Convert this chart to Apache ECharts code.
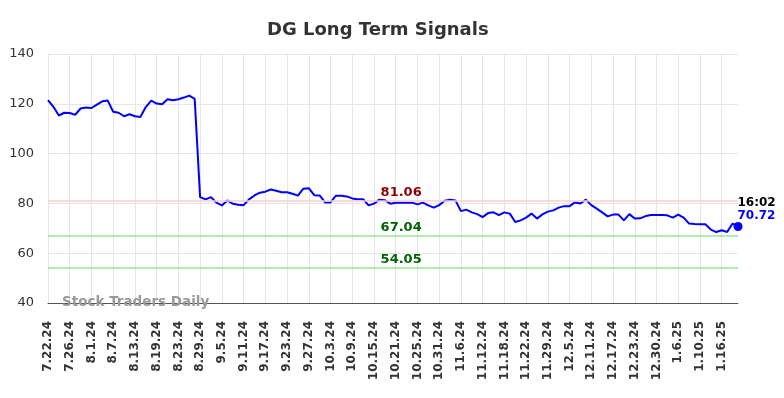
<!DOCTYPE html>
<html>
<head>
<meta charset="utf-8">
<script src="https://cdn.jsdelivr.net/npm/echarts@6/dist/echarts.min.js"></script>
<style>
  html, body { margin: 0; padding: 0; background: #fff; }
  #chart { width: 784px; height: 398px; }
</style>
</head>
<body>
<div id="chart"></div>
<script>
// trading days, 7.22.24 .. 1.22.25
var dates = [
  '7.22.24','7.23.24','7.24.24','7.25.24','7.26.24','7.29.24','7.30.24','7.31.24',
  '8.1.24','8.2.24','8.5.24','8.6.24','8.7.24','8.8.24','8.9.24','8.12.24','8.13.24','8.14.24','8.15.24','8.16.24',
  '8.19.24','8.20.24','8.21.24','8.22.24','8.23.24','8.26.24','8.27.24','8.28.24','8.29.24','8.30.24',
  '9.3.24','9.4.24','9.5.24','9.6.24','9.9.24','9.10.24','9.11.24','9.12.24','9.13.24','9.16.24',
  '9.17.24','9.18.24','9.19.24','9.20.24','9.23.24','9.24.24','9.25.24','9.26.24','9.27.24','9.30.24',
  '10.1.24','10.2.24','10.3.24','10.4.24','10.7.24','10.8.24','10.9.24','10.10.24','10.11.24','10.14.24',
  '10.15.24','10.16.24','10.17.24','10.18.24','10.21.24','10.22.24','10.23.24','10.24.24','10.25.24','10.28.24',
  '10.29.24','10.30.24','10.31.24',
  '11.1.24','11.4.24','11.5.24','11.6.24','11.7.24','11.8.24','11.11.24','11.12.24','11.13.24','11.14.24',
  '11.15.24','11.18.24','11.19.24','11.20.24','11.21.24','11.22.24','11.25.24','11.26.24','11.27.24','11.29.24',
  '12.2.24','12.3.24','12.4.24','12.5.24','12.6.24','12.9.24','12.10.24','12.11.24','12.12.24','12.13.24',
  '12.16.24','12.17.24','12.18.24','12.19.24','12.20.24','12.23.24','12.24.24','12.26.24','12.27.24','12.30.24',
  '12.31.24',
  '1.2.25','1.3.25','1.6.25','1.7.25','1.8.25','1.9.25','1.10.25','1.13.25','1.14.25','1.15.25',
  '1.16.25','1.17.25','1.21.25','1.22.25'
];

var prices = [
  121.5, 118.8, 115.3, 116.4, 116.3, 115.6, 118.1, 118.5, 118.3, 119.7,
  121.0, 121.3, 116.8, 116.4, 115.0, 115.8, 115.0, 114.7, 118.7, 121.3,
  120.1, 119.8, 121.8, 121.4, 121.8, 122.5, 123.3, 122.0, 82.5, 81.6,
  82.5, 80.3, 79.2, 81.2, 79.9, 79.5, 79.3, 81.6, 83.2, 84.3,
  84.7, 85.6, 85.1, 84.5, 84.5, 83.9, 83.1, 85.9, 86.1, 83.3,
  83.2, 80.4, 80.4, 83.1, 83.1, 82.8, 82.0, 81.7, 81.7, 79.2,
  79.9, 81.5, 81.3, 79.9, 80.3, 80.3, 80.3, 80.3, 79.6, 80.3,
  79.2, 78.3, 79.3, 81.1, 81.5, 81.2, 76.9, 77.5, 76.4, 75.7,
  74.5, 76.1, 76.4, 75.3, 76.4, 75.9, 72.5, 73.2, 74.3, 75.9,
  73.9, 75.6, 76.7, 77.2, 78.3, 78.9, 78.9, 80.4, 80.0, 81.5,
  79.3, 77.9, 76.4, 74.8, 75.5, 75.5, 73.2, 75.7, 73.9, 74.0,
  74.9, 75.3, 75.3, 75.3, 75.2, 74.3, 75.5, 74.3, 71.9, 71.7,
  71.6, 71.6, 69.5, 68.5, 69.2, 68.5, 71.9, 70.72
];

// signal levels
var resistance = [81.06];
var supports = [67.04, 54.05];
var lastTime = '16:02';

var yTicks = { min: 40, max: 140, interval: 20 };
var FONT = 'DejaVu Sans';

var chart = echarts.init(document.getElementById('chart'));

var lastIdx = prices.length - 1;
var labelIdx = 65; // where the level labels sit

function levelLine(v, color) {
  return { yAxis: v, lineStyle: { color: color, width: 1.5, type: 'solid' } };
}
function levelText(v, color) {
  return {
    coord: [dates[labelIdx], v],
    value: v,
    symbol: 'circle', symbolSize: 0,
    label: {
      show: true, position: 'top', distance: 2,
      formatter: v.toFixed(2),
      color: color, fontFamily: FONT, fontWeight: 'bold', fontSize: 13
    }
  };
}

var option = {
  backgroundColor: '#fff',
  animation: false,
  title: {
    text: 'DG Long Term Signals',
    left: 262, top: 16,
    textStyle: { fontFamily: FONT, fontSize: 18, fontWeight: 'bold', color: '#333' }
  },
  grid: { left: 48, right: 46, top: 54, bottom: 95 },
  xAxis: {
    type: 'category',
    data: dates,
    boundaryGap: false,
    axisLine: { show: true, lineStyle: { color: '#555', width: 1 } },
    axisTick: { show: false },
    axisLabel: {
      interval: 3, rotate: 90, margin: 18,
      fontFamily: FONT, fontSize: 12, fontWeight: 'bold', color: '#333'
    },
    splitLine: { show: true, interval: 3, lineStyle: { color: '#e6e6e6', width: 1 } }
  },
  yAxis: {
    type: 'value',
    min: yTicks.min, max: yTicks.max, interval: yTicks.interval,
    axisLine: { show: false },
    axisTick: { show: false },
    axisLabel: { margin: 14, fontFamily: FONT, fontSize: 13, color: '#333' },
    splitLine: { lineStyle: { color: '#e6e6e6', width: 1 } }
  },
  graphic: [{
    type: 'text', left: 62, top: 295, z: 100,
    style: { text: 'Stock Traders Daily', fill: '#999', font: 'bold 13.5px "DejaVu Sans"' }
  }],
  series: [{
    type: 'line',
    data: prices,
    symbol: 'none',
    lineStyle: { color: '#0000ff', width: 2 },
    itemStyle: { color: '#0000ff' },
    markLine: {
      silent: true, symbol: 'none',
      label: { show: false },
      data: [
        levelLine(resistance[0], '#ffcccc'),
        levelLine(supports[0], '#99e699'),
        levelLine(supports[1], '#99e699')
      ]
    },
    markPoint: {
      silent: true,
      data: [
        levelText(resistance[0], '#8b0000'),
        levelText(supports[0], '#006400'),
        levelText(supports[1], '#006400'),
        {
          coord: [dates[lastIdx], prices[lastIdx]],
          symbol: 'circle', symbolSize: 9,
          itemStyle: { color: '#0000ff' },
          label: {
            show: true, position: [4, -26],
            formatter: '{t|' + lastTime + '}\n{v|' + prices[lastIdx].toFixed(2) + '}',
            rich: {
              t: { color: '#000', fontFamily: FONT, fontWeight: 'bold', fontSize: 12, lineHeight: 13 },
              v: { color: '#0000ff', fontFamily: FONT, fontWeight: 'bold', fontSize: 12, lineHeight: 13 }
            }
          }
        }
      ]
    }
  }]
};

chart.setOption(option);
</script>
</body>
</html>
